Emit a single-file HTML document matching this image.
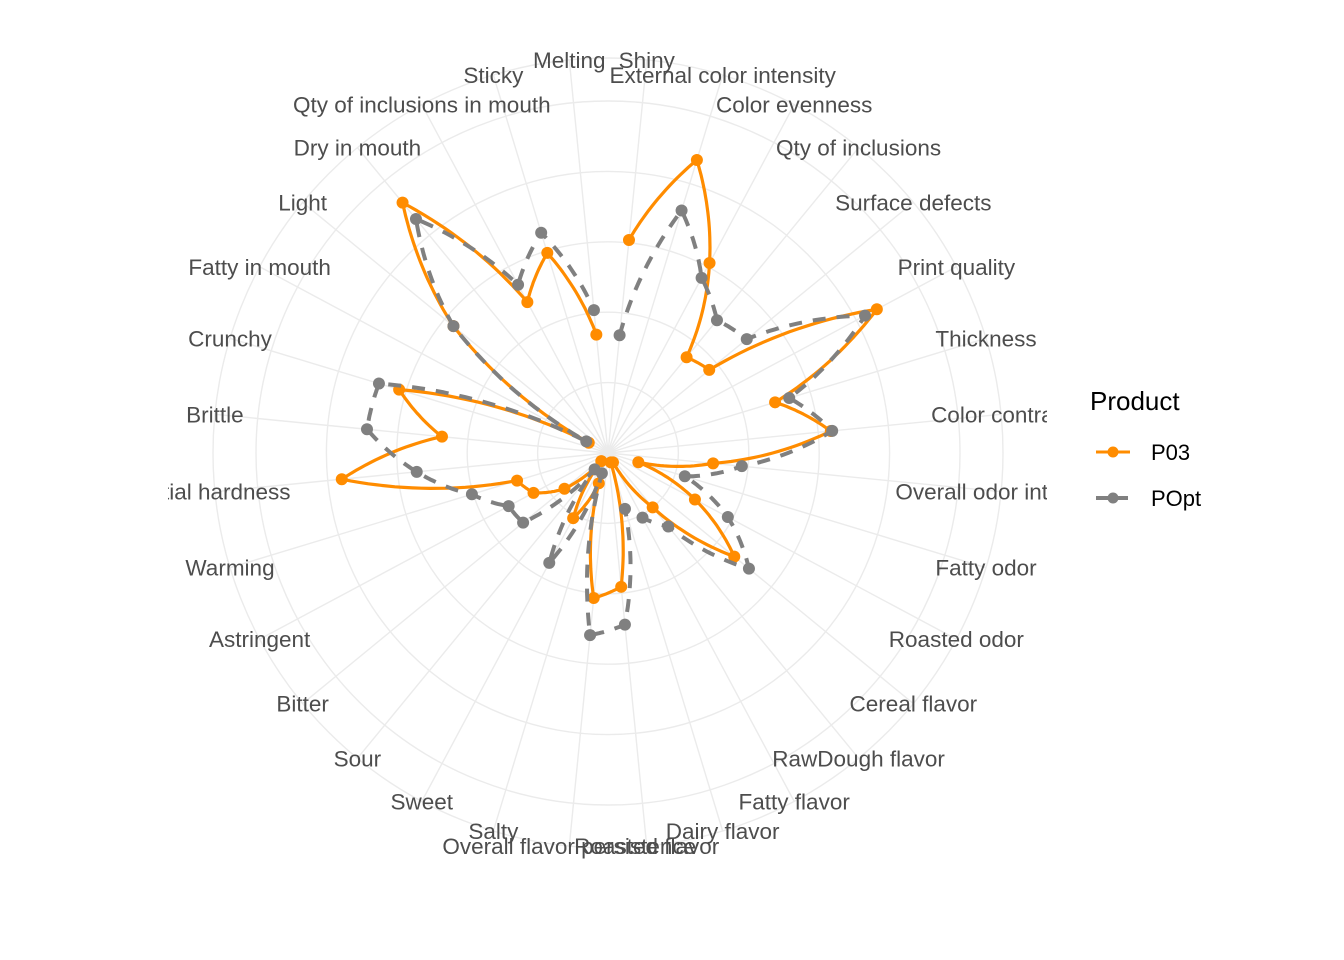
<!DOCTYPE html>
<html><head><meta charset="utf-8"><style>
html,body{margin:0;padding:0;background:#fff;}
svg{display:block;font-family:"Liberation Sans",Arial,sans-serif;}
</style></head><body>
<svg id="chart" width="1344" height="960" viewBox="0 0 1344 960" xmlns="http://www.w3.org/2000/svg">
<defs><clipPath id="panelClip"><rect x="168" y="0" width="879" height="960"/></clipPath></defs>
<rect width="1344" height="960" fill="#fff"/>
<g id="grid"></g>
<g id="labels" clip-path="url(#panelClip)"></g>
<g id="series"></g>
<g>
  <text x="1090" y="410" font-size="26" fill="#000">Product</text>
  <g>
    <line x1="1096" y1="452" x2="1130" y2="452" stroke="#FF8C00" stroke-width="3"/>
    <circle cx="1113" cy="452" r="5.5" fill="#FF8C00"/>
    <text x="1151" y="460" font-size="22" fill="#000">P03</text>
  </g>
  <g>
    <line x1="1096" y1="498" x2="1130" y2="498" stroke="#808080" stroke-width="4" stroke-dasharray="12,8"/>
    <circle cx="1113" cy="498" r="5.5" fill="#808080"/>
    <text x="1151" y="506" font-size="22" fill="#000">POpt</text>
  </g>
</g>
</svg>
<script>
const categories = ["Shiny","External color intensity","Color evenness","Qty of inclusions","Surface defects","Print quality","Thickness","Color contrast","Overall odor intensity","Fatty odor","Roasted odor","Cereal flavor","RawDough flavor","Fatty flavor","Dairy flavor","Roasted flavor","Overall flavor persistence","Salty","Sweet","Sour","Bitter","Astringent","Warming","Initial hardness","Brittle","Crunchy","Fatty in mouth","Light","Dry in mouth","Qty of inclusions in mouth","Sticky","Melting"];
const p03Values = [3.04,4.35,3.06,1.76,1.86,4.33,2.48,3.18,1.5,0.45,1.4,2.32,1.0,0.15,0.14,1.91,2.07,0.45,1.05,0.15,0.8,1.2,1.35,3.8,2.37,3.1,0.31,2.84,4.6,2.43,2.97,1.69];
const poptValues = [1.68,3.6,2.82,2.44,2.55,4.14,2.69,3.2,1.91,1.14,1.93,2.59,1.35,1.04,0.83,2.45,2.6,0.3,1.77,0.3,1.56,1.6,2.02,2.73,3.44,3.4,0.35,2.84,4.3,2.71,3.27,2.04];
const ringValues = [1,2,3,4,5];

const NS = "http://www.w3.org/2000/svg";
const CX = 608, CY = 453, UNIT = 70.4, OUTER = 395;
const N = categories.length;
function angleOf(i){ return (i + 0.5) * 2 * Math.PI / N; }
function rScale(v){ return v * UNIT; }
function pt(theta, r){ return [CX + r * Math.sin(theta), CY - r * Math.cos(theta)]; }
function mk(tag, attrs){ const e = document.createElementNS(NS, tag); for (const k in attrs) e.setAttribute(k, attrs[k]); return e; }

const grid = document.getElementById('grid');
ringValues.concat([OUTER / UNIT]).forEach(v => {
  const c = mk('circle', {cx: CX, cy: CY, r: rScale(v), fill: 'none', stroke: '#ebebeb', 'stroke-width': 1.4});
  
  
  grid.appendChild(c);
});
categories.forEach((c, i) => {
  const [x, y] = pt(angleOf(i), OUTER);
  const l = mk('line', {x1: CX, y1: CY, x2: x, y2: y, stroke: '#ebebeb', 'stroke-width': 1.4});
  
  
  grid.appendChild(l);
});

const labels = document.getElementById('labels');
categories.forEach((c, i) => {
  const [x, y] = pt(angleOf(i), OUTER);
  const t = mk('text', {x: x, y: y + 8, 'text-anchor': 'middle', 'font-size': 22.5, fill: '#4d4d4d'});
  t.textContent = c;
  
  
  labels.appendChild(t);
});

const series = document.getElementById('series');
function drawSeries(vals, color, width, dash, name){
  let d = '';
  for (let i = 0; i < vals.length; i++) {
    if (i === 0) { const [x, y] = pt(angleOf(0), rScale(vals[0])); d += 'M' + x.toFixed(1) + ',' + y.toFixed(1); continue; }
    const a0 = angleOf(i - 1), a1 = angleOf(i), r0 = rScale(vals[i - 1]), r1 = rScale(vals[i]);
    for (let s = 1; s <= 20; s++) {
      const f = s / 20;
      const [x, y] = pt(a0 + (a1 - a0) * f, r0 + (r1 - r0) * f);
      d += 'L' + x.toFixed(1) + ',' + y.toFixed(1);
    }
  }
  const p = mk('path', {d: d, fill: 'none', stroke: color, 'stroke-width': width, 'stroke-linejoin': 'round'});
  if (dash) p.setAttribute('stroke-dasharray', dash);
  
  
  series.appendChild(p);
  vals.forEach((v, i) => {
    const [x, y] = pt(angleOf(i), rScale(v));
    const c = mk('circle', {cx: x, cy: y, r: 6, fill: color});
    
    
    series.appendChild(c);
  });
}
drawSeries(p03Values, '#FF8C00', 3.2, null, 'p03');
drawSeries(poptValues, '#808080', 4, '13,11', 'popt');
</script>
</body></html>
